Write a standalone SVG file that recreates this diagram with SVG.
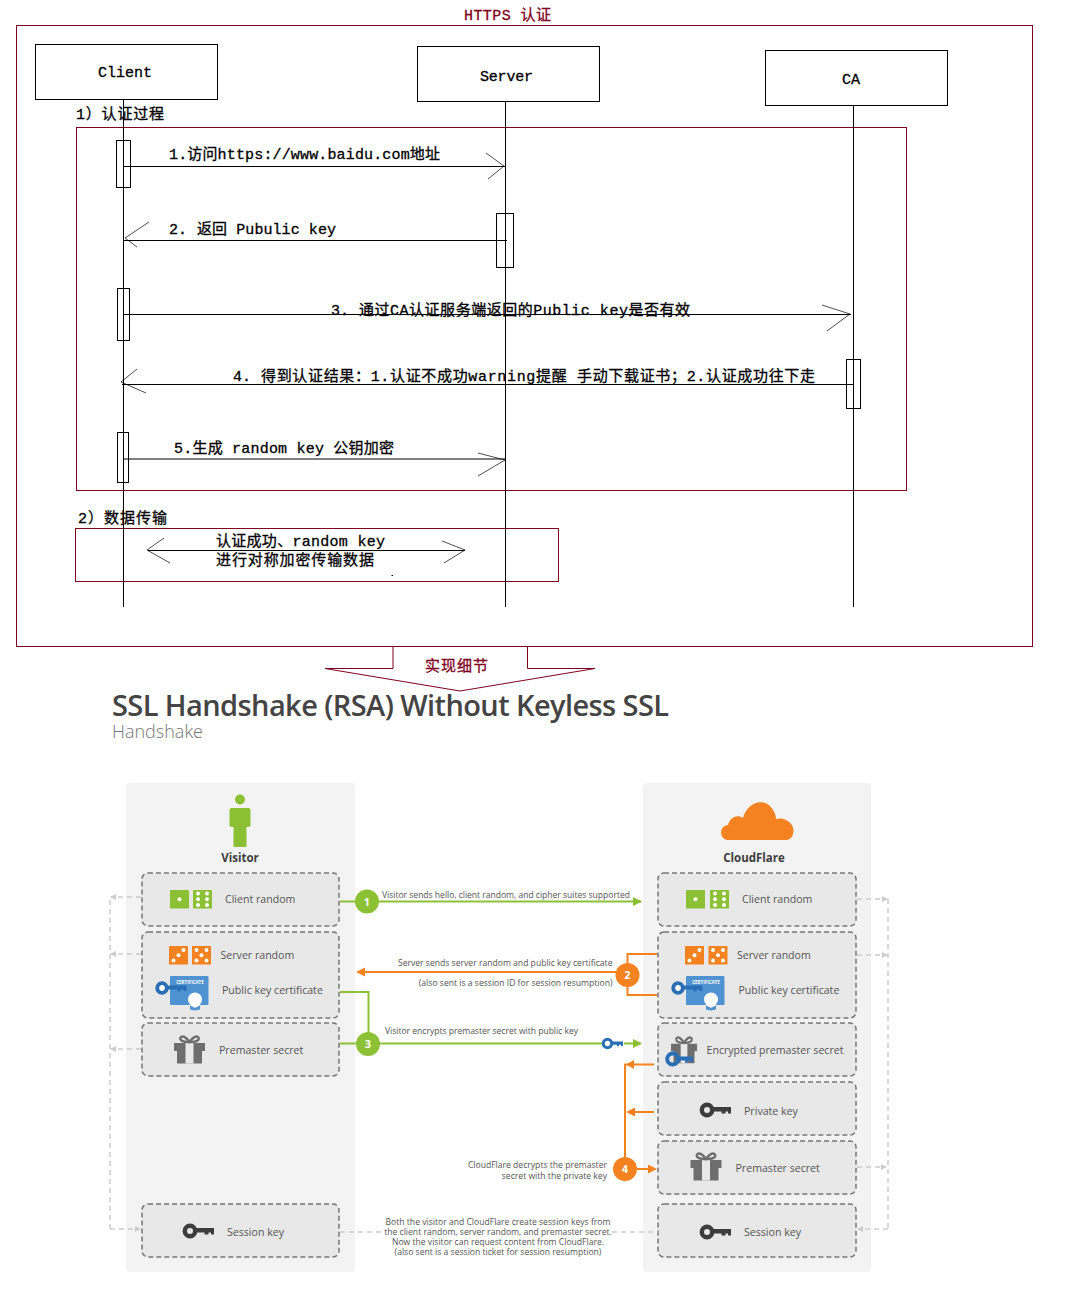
<svg xmlns="http://www.w3.org/2000/svg" width="1072" height="1316" viewBox="0 0 1072 1316">
<style>
.r{fill:none;stroke:#800020;stroke-width:1}
.b{fill:#fff;stroke:#000;stroke-width:1}
.a{fill:none;stroke:#000;stroke-width:1}
.h{fill:none;stroke:#000;stroke-width:.7}
.m{font-family:"Liberation Mono","Noto Sans CJK SC",monospace;font-size:15px;fill:#000;stroke:#000;stroke-width:.3}
.c{fill:#800020;stroke:#800020}
.t{font-family:"Open Sans","Noto Sans",sans-serif;font-size:10.6px;fill:#555}
.s{font-family:"Open Sans","Noto Sans",sans-serif;font-size:8.6px;fill:#555}
.n{font-family:"Open Sans","Noto Sans",sans-serif;font-size:11.5px;fill:#3d3d3d;font-weight:700;text-anchor:middle}
.p{fill:#f3f3f3}
.d{fill:#e8e8e8;stroke:#777;stroke-width:1.5;stroke-dasharray:5 3}
.g{fill:none;stroke:#8cc136;stroke-width:2}
.o{fill:none;stroke:#f58220;stroke-width:2}
.y{fill:none;stroke:#ccc;stroke-width:1.5;stroke-dasharray:5 4}
.cg{fill:#8cc136}.co{fill:#f58220}
.num{font-family:"Open Sans","Noto Sans",sans-serif;font-size:11px;font-weight:700;fill:#fff;text-anchor:middle}
</style>
<defs>
<marker id="mg" markerWidth="10" markerHeight="10" refX="8" refY="4.500" orient="auto" markerUnits="userSpaceOnUse"><path d="M0 0L9 4.500L0 9z" fill="#8cc136"/></marker>
<marker id="mo" markerWidth="10" markerHeight="10" refX="7" refY="4.500" orient="auto" markerUnits="userSpaceOnUse"><path d="M0 0L9 4.500L0 9z" fill="#f58220"/></marker>
<marker id="my" markerWidth="7" markerHeight="7" refX="5" refY="3" orient="auto" markerUnits="userSpaceOnUse"><path d="M0 0L6 3L0 6z" fill="#ccc"/></marker>
<g id="pip1"><rect width="19" height="18.500" rx=".5" fill="#8cc136"/><circle cx="9.500" cy="9.250" r="2" fill="#fff"/></g>
<g id="pip6"><rect width="19" height="18.500" rx=".5" fill="#8cc136"/><g fill="#fff"><circle cx="5" cy="3.500" r="2"/><circle cx="14" cy="3.500" r="2"/><circle cx="5" cy="9.250" r="2"/><circle cx="14" cy="9.250" r="2"/><circle cx="5" cy="15" r="2"/><circle cx="14" cy="15" r="2"/></g></g>
<g id="pip3"><rect width="19" height="18.500" rx=".5" fill="#f58220"/><g fill="#fff"><circle cx="14.500" cy="4" r="2"/><circle cx="9.500" cy="9.250" r="2"/><circle cx="4.500" cy="14.500" r="2"/></g></g>
<g id="pip5"><rect width="19" height="18.500" rx=".5" fill="#f58220"/><g fill="#fff"><circle cx="4.500" cy="4" r="2"/><circle cx="14.500" cy="4" r="2"/><circle cx="9.500" cy="9.250" r="2"/><circle cx="4.500" cy="14.500" r="2"/><circle cx="14.500" cy="14.500" r="2"/></g></g>
<g id="key"><circle cx="7" cy="0" r="5.200" fill="none" stroke="#3d3d3d" stroke-width="4.400"/><path d="M12 -3H31V3.500H28V1.500H25.500V3.500H21.500V1.500H12z" fill="#3d3d3d"/></g>
<g id="bkey"><circle cx="5.500" cy="0" r="4.200" fill="none" stroke="#2a6fb5" stroke-width="3"/><path d="M9 -2H21V2.500H19V1.200H17V2.800H15V1.200H9z" fill="#2a6fb5"/></g>
<g id="gift"><path d="M0 7H31V15H28V27.500H3V15H0z" fill="#6e6e6e"/><path d="M11.500 7H19.500V27.500H11.500z" fill="#e8e8e8"/><path d="M15.500 6C12 1 8 -1 6.500 1.500C5 4 9 6.500 15.500 6C22 6.500 26 4 24.500 1.500C23 -1 19 1 15.500 6z" fill="none" stroke="#6e6e6e" stroke-width="2.400"/></g>
<g id="cert"><rect x="8" y="0" width="38.500" height="29" rx="1" fill="#4f93d2"/><text x="28" y="7.500" font-family="Open Sans,sans-serif" font-size="4.500" font-weight="700" fill="#fff" text-anchor="middle">CERTIFICATE</text><circle cx="33" cy="23.500" r="7" fill="#fff"/><path d="M28 29.500L33 32L38 29.500V33.500L33 34.500L28 33.500z" fill="#4f93d2"/><g transform="translate(-5.500 12)"><circle cx="5.500" cy="0" r="4.800" fill="#fff" stroke="#2a6fb5" stroke-width="3.800"/><path d="M9.500 -2.500H30V3H27V1.500H24V3.500H21V1.500H9.500z" fill="#2a6fb5"/></g></g>
</defs>
<rect width="1072" height="1316" fill="#fff"/>
<g id="frames">
<rect class="r" x="16.500" y="25.500" width="1016" height="621"/>
<rect class="r" x="76.500" y="127.500" width="830" height="363"/>
<rect class="r" x="75.500" y="528.500" width="483" height="53"/>
<text x="464" y="20" class="m c" textLength="87">HTTPS 认证</text>
<text x="76" y="119" class="m" textLength="88">1）认证过程</text>
<text x="78" y="523" class="m" textLength="89">2）数据传输</text>
<rect x="391.500" y="575" width="1.500" height="1" fill="#000"/>
</g>
<g id="client"><rect class="b" x="35.500" y="44.500" width="182" height="55"/><text x="98" y="77" class="m" textLength="54">Client</text></g>
<g id="server"><rect class="b" x="417.500" y="46.500" width="182" height="55"/><text x="480" y="81" class="m" textLength="53">Server</text></g>
<g id="ca"><rect class="b" x="765.500" y="50.500" width="182" height="55"/><text x="842" y="84" class="m" textLength="18">CA</text></g>
<g id="activations" fill="none" stroke="#000">
<rect x="116.500" y="140.500" width="14" height="47"/>
<rect x="496.500" y="213.500" width="17" height="54"/>
<rect x="117.500" y="288.500" width="12" height="52"/>
<rect x="846.500" y="359.500" width="14" height="49"/>
<rect x="117.500" y="432.500" width="11" height="50"/>
</g>
<g id="seq-connectors">
<path class="a" d="M123.500 99V607M505.500 101V607M853.500 105V607"/>
<path class="a" d="M123 166.500H505M124 240.500H507M123 314.500H851M122 384.500H853M123 459H505M148 550.500H465"/>
<path class="h" d="M486 153L504 166L488 179M149 222L125 238L137 247M822 305L850 314L827 331M137 369L121 382L146 393M478 453L505 460L478 476M164 538L147 550L170 563M442 541L465 550L444 563"/>
</g>
<g id="seq-labels">
<text x="169" y="159" class="m" textLength="271">1.访问https://www.baidu.com地址</text>
<text x="169" y="234" class="m">2.</text><text x="197" y="234" class="m" textLength="139">返回 Pubulic key</text>
<text x="331" y="315" class="m">3.</text><text x="359" y="315" class="m" textLength="331">通过CA认证服务端返回的Public key是否有效</text>
<text x="233" y="381" class="m">4.</text><text x="261" y="381" class="m" textLength="554">得到认证结果：1.认证不成功warning提醒 手动下载证书；2.认证成功往下走</text>
<text x="174" y="453" class="m" textLength="220">5.生成 random key 公钥加密</text>
<text x="216" y="546" class="m" textLength="169">认证成功、random key</text>
<text x="216" y="565" class="m" textLength="158">进行对称加密传输数据</text>
</g>
<g id="detail-arrow">
<path class="r" d="M393 646.500V668.500H325L460 691L595 668.500H527.500V646.500"/>
<text x="425" y="671" class="m c" textLength="63">实现细节</text>
</g>
<g id="title">
<text x="112" y="716" font-family="Open Sans,sans-serif" font-size="29px" font-weight="600" fill="#444" textLength="557">SSL Handshake (RSA) Without Keyless SSL</text>
<text x="112" y="738" font-family="Open Sans,sans-serif" font-size="18px" font-weight="300" fill="#777" textLength="91">Handshake</text>
</g>
<g id="panels">
<rect class="p" x="126" y="783" width="229" height="489" rx="4"/>
<rect class="p" x="643" y="783" width="228" height="489" rx="4"/>
</g>
<g id="visitor">
<circle cx="240" cy="799.500" r="5" fill="#8cc136"/>
<path d="M231.500 808H248.500Q250.500 808 250.500 810V825Q250.500 827 247 827H246.500V847H233.500V827H233Q229.500 827 229.500 825V810Q229.500 808 231.500 808z" fill="#8cc136"/>
<text x="240" y="862" class="n">Visitor</text>
</g>
<g id="cloudflare">
<path d="M727 840C719 838 719 826 728 825C730 817 738 814 743 818C747 802 765 796 773 810C775 813 776 816 776 819C786 816 796 825 793 834C792 838 789 840 785 840z" fill="#f58220"/>
<text x="754" y="862" class="n">CloudFlare</text>
</g>
<g id="v-client-random"><rect class="d" x="142" y="873" width="197" height="53" rx="6"/><use href="#pip1" x="170" y="890"/><use href="#pip6" x="193" y="890"/><text x="225" y="903" class="t">Client random</text></g>
<g id="v-server"><rect class="d" x="142" y="932" width="197" height="86" rx="6"/><use href="#pip3" x="169" y="946"/><use href="#pip5" x="192" y="946"/><text x="220.500" y="958.500" class="t">Server random</text><use href="#cert" x="162" y="976"/><text x="222" y="994" class="t">Public key certificate</text></g>
<g id="v-premaster"><rect class="d" x="142" y="1023" width="197" height="53" rx="6"/><use href="#gift" x="174" y="1036"/><text x="219" y="1054" class="t">Premaster secret</text></g>
<g id="v-session"><rect class="d" x="142" y="1204" width="197" height="53" rx="6"/><use href="#key" x="183" y="1231"/><text x="227" y="1236" class="t">Session key</text></g>
<g id="c-client-random"><rect class="d" x="658" y="873" width="198" height="53" rx="6"/><use href="#pip1" x="686" y="890"/><use href="#pip6" x="710" y="890"/><text x="742" y="903" class="t">Client random</text></g>
<g id="c-server"><rect class="d" x="658" y="932" width="198" height="86" rx="6"/><use href="#pip3" x="685" y="946"/><use href="#pip5" x="708.500" y="946"/><text x="737" y="958.500" class="t">Server random</text><use href="#cert" x="678" y="976"/><text x="738.500" y="994" class="t">Public key certificate</text></g>
<g id="c-encrypted"><rect class="d" x="658" y="1023" width="198" height="53" rx="6"/><g transform="translate(671 1037) scale(.84 .95)"><use href="#gift"/></g><g transform="translate(665.500 1059) scale(1.300)"><use href="#bkey"/></g><text x="706.500" y="1054" class="t">Encrypted premaster secret</text></g>
<g id="c-private"><rect class="d" x="658" y="1082" width="198" height="53" rx="6"/><use href="#key" x="700" y="1110"/><text x="744" y="1115" class="t">Private key</text></g>
<g id="c-premaster"><rect class="d" x="658" y="1141" width="198" height="53" rx="6"/><use href="#gift" x="690.500" y="1153"/><text x="735.500" y="1172" class="t">Premaster secret</text></g>
<g id="c-session"><rect class="d" x="658" y="1204" width="198" height="53" rx="6"/><use href="#key" x="700" y="1232"/><text x="744" y="1236" class="t">Session key</text></g>
<g id="connectors">
<path class="y" d="M110 1229V897"/><path class="y" d="M141 897H111" marker-end="url(#my)"/><path class="y" d="M141 954H111" marker-end="url(#my)"/><path class="y" d="M141 1049H111" marker-end="url(#my)"/><path class="y" d="M110 1229H140" marker-end="url(#my)"/>
<path class="y" d="M888 899V1229"/><path class="y" d="M857 899H887" marker-end="url(#my)"/><path class="y" d="M857 955H887" marker-end="url(#my)"/><path class="y" d="M857 1167H886" marker-end="url(#my)"/><path class="y" d="M888 1229H858" marker-end="url(#my)"/>
<path class="y" d="M340 1232H382M612 1232H658"/>
<path class="g" d="M340 901.500H641" marker-end="url(#mg)"/>
<path class="g" d="M340 992H368.500V1044"/>
<path class="g" d="M340 1043.500H603"/>
<path class="g" d="M624 1043.500H641" marker-end="url(#mg)"/>
<use href="#bkey" x="602" y="1043.500"/>
<path class="o" d="M657 954H627.500V995H657"/>
<path class="o" d="M627 972H358" marker-end="url(#mo)"/>
<path class="o" d="M625 1169V1064.500H654"/>
<path class="o" d="M654 1112H628" marker-end="url(#mo)"/>
<path class="o" d="M637 1169H655" marker-end="url(#mo)"/>
<path d="M634 1060L626 1064.500L634 1069z" class="co"/>
<circle class="cg" cx="367" cy="901.500" r="12"/><text x="367" y="905.500" class="num">1</text>
<circle class="co" cx="627.500" cy="975" r="12"/><text x="627.500" y="979" class="num">2</text>
<circle class="cg" cx="368" cy="1044" r="12"/><text x="368" y="1048" class="num">3</text>
<circle class="co" cx="625" cy="1169" r="12"/><text x="625" y="1173" class="num">4</text>
</g>
<g id="connector-labels">
<text x="382" y="898" class="s" textLength="248">Visitor sends hello, client random, and cipher suites supported</text>
<text x="612.500" y="966" class="s" text-anchor="end">Server sends server random and public key certificate</text>
<text x="612.500" y="986" class="s" text-anchor="end">(also sent is a session ID for session resumption)</text>
<text x="385" y="1034" class="s" textLength="193">Visitor encrypts premaster secret with public key</text>
<text x="607" y="1168" class="s" text-anchor="end">CloudFlare decrypts the premaster</text>
<text x="607" y="1179" class="s" text-anchor="end">secret with the private key</text>
<text x="498" y="1225" class="s" text-anchor="middle">Both the visitor and CloudFlare create session keys from</text>
<text x="498" y="1235" class="s" text-anchor="middle">the client random, server random, and premaster secret.</text>
<text x="498" y="1245" class="s" text-anchor="middle">Now the visitor can request content from CloudFlare.</text>
<text x="498" y="1255" class="s" text-anchor="middle">(also sent is a session ticket for session resumption)</text>
</g>
</svg>
